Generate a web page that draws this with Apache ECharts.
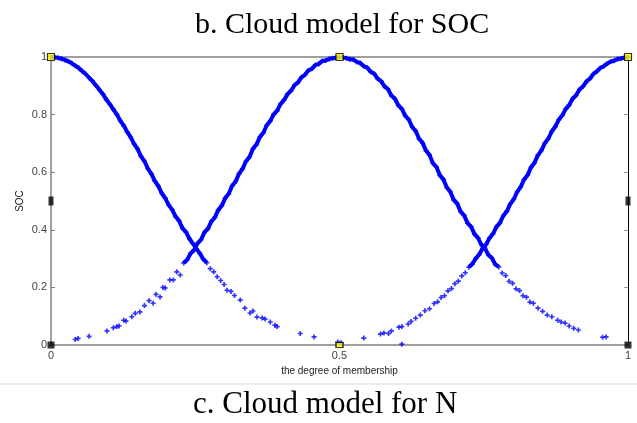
<!DOCTYPE html>
<html>
<head>
<meta charset="utf-8">
<script src="https://cdn.jsdelivr.net/npm/echarts@6/dist/echarts.min.js"></script>
<style>
  html, body { margin: 0; padding: 0; background: #fff; }
  #chart { width: 637px; height: 423px; }
</style>
</head>
<body>
<div id="chart"></div>
<script>
// Cloud drops (x = degree of membership axis, y = SOC axis)
// Cloud centred at 0 (right half)
const cloudLow = [
  [0.000,1.000],[0.006,0.999],[0.012,0.997],[0.018,0.994],[0.024,0.990],[0.030,0.985],
  [0.036,0.978],[0.042,0.970],[0.048,0.962],[0.054,0.951],[0.060,0.941],[0.066,0.928],
  [0.072,0.916],[0.078,0.901],[0.084,0.886],[0.090,0.871],[0.096,0.852],[0.102,0.836],
  [0.108,0.818],[0.114,0.801],[0.120,0.779],[0.126,0.762],[0.132,0.740],[0.138,0.722],
  [0.144,0.698],[0.150,0.681],[0.156,0.655],[0.162,0.638],[0.168,0.612],[0.174,0.594],
  [0.180,0.569],[0.186,0.552],[0.192,0.527],[0.198,0.510],[0.204,0.486],[0.210,0.470],
  [0.216,0.446],[0.222,0.431],[0.228,0.405],[0.234,0.392],[0.240,0.369],[0.246,0.352],
  [0.252,0.334],[0.258,0.318],[0.264,0.298],[0.270,0.286],[0.276,0.265],[0.282,0.254],
  [0.288,0.237],[0.294,0.224],[0.300,0.210],[0.305,0.190],[0.312,0.186],[0.318,0.172],
  [0.328,0.156],[0.336,0.128],[0.345,0.111],[0.350,0.118],[0.357,0.097],[0.366,0.094],
  [0.371,0.090],[0.380,0.080],[0.388,0.069],[0.392,0.064],[0.432,0.040],[0.456,0.028],
  [0.497,0.010],[0.608,0.003]
];
// Cloud centred at 0.5, left half
const cloudMidLeft = [
  [0.042,0.019],[0.047,0.023],[0.066,0.030],[0.097,0.049],[0.108,0.060],[0.114,0.064],
  [0.118,0.066],[0.126,0.086],[0.130,0.083],[0.140,0.098],[0.146,0.110],[0.154,0.115],
  [0.162,0.137],[0.170,0.154],[0.177,0.145],[0.182,0.176],[0.189,0.167],[0.194,0.200],
  [0.198,0.198],[0.206,0.226],[0.212,0.226],[0.218,0.254],[0.224,0.243],[0.230,0.285],
  [0.236,0.296],[0.242,0.318],[0.248,0.330],[0.254,0.353],[0.260,0.366],[0.266,0.391],
  [0.272,0.404],[0.278,0.429],[0.284,0.443],[0.290,0.469],[0.296,0.484],[0.302,0.510],
  [0.308,0.525],[0.314,0.553],[0.320,0.568],[0.326,0.595],[0.332,0.612],[0.338,0.638],
  [0.344,0.653],[0.350,0.681],[0.356,0.696],[0.362,0.722],[0.368,0.737],[0.374,0.763],
  [0.380,0.778],[0.386,0.801],[0.392,0.814],[0.398,0.837],[0.404,0.851],[0.410,0.871],
  [0.416,0.883],[0.422,0.902],[0.428,0.912],[0.434,0.929],[0.440,0.938],[0.446,0.953],
  [0.452,0.959],[0.458,0.972],[0.464,0.976],[0.470,0.986],[0.476,0.988],[0.482,0.993],
  [0.488,0.996],[0.494,0.997],[0.500,1.000]
];
// Cloud centred at 0.5, right half
const cloudMidRight = [
  [0.506,0.998],[0.512,0.996],[0.518,0.992],[0.524,0.991],[0.530,0.983],[0.536,0.979],
  [0.542,0.968],[0.548,0.963],[0.554,0.949],[0.560,0.942],[0.566,0.925],[0.572,0.916],
  [0.578,0.898],[0.584,0.888],[0.590,0.866],[0.596,0.855],[0.602,0.832],[0.608,0.820],
  [0.614,0.796],[0.620,0.783],[0.626,0.757],[0.632,0.743],[0.638,0.716],[0.644,0.702],
  [0.650,0.675],[0.656,0.660],[0.662,0.631],[0.668,0.618],[0.674,0.589],[0.680,0.575],
  [0.686,0.547],[0.692,0.532],[0.698,0.504],[0.704,0.491],[0.710,0.463],[0.716,0.450],
  [0.722,0.423],[0.728,0.411],[0.734,0.385],[0.740,0.372],[0.746,0.348],[0.752,0.336],
  [0.758,0.313],[0.764,0.302],[0.770,0.280],[0.776,0.271],[0.782,0.250],[0.788,0.241],
  [0.794,0.221],[0.800,0.214],[0.806,0.195],[0.812,0.189],[0.818,0.171],[0.824,0.166],
  [0.830,0.149],[0.836,0.145],[0.844,0.128],[0.852,0.117],[0.860,0.104],[0.868,0.098],
  [0.878,0.086],[0.884,0.080],[0.891,0.076],[0.898,0.066],[0.906,0.058],[0.914,0.052],
  [0.956,0.027],[0.962,0.028]
];
// Cloud centred at 1 (left half)
const cloudHigh = [
  [0.503,0.008],[0.542,0.024],[0.571,0.038],[0.577,0.042],[0.585,0.040],[0.590,0.049],
  [0.603,0.062],[0.608,0.064],[0.619,0.073],[0.624,0.082],[0.632,0.093],[0.640,0.104],
  [0.648,0.119],[0.656,0.126],[0.664,0.144],[0.670,0.150],[0.676,0.165],[0.682,0.171],
  [0.688,0.188],[0.694,0.196],[0.700,0.213],[0.706,0.222],[0.712,0.240],[0.718,0.251],
  [0.724,0.270],[0.730,0.281],[0.736,0.300],[0.742,0.314],[0.748,0.335],[0.754,0.349],
  [0.760,0.371],[0.766,0.386],[0.772,0.410],[0.778,0.424],[0.784,0.449],[0.790,0.464],
  [0.796,0.490],[0.802,0.506],[0.808,0.532],[0.814,0.549],[0.820,0.575],[0.826,0.590],
  [0.832,0.617],[0.838,0.633],[0.844,0.659],[0.850,0.676],[0.856,0.701],[0.862,0.717],
  [0.868,0.742],[0.874,0.758],[0.880,0.782],[0.886,0.797],[0.892,0.819],[0.898,0.833],
  [0.904,0.855],[0.910,0.867],[0.916,0.887],[0.922,0.898],[0.928,0.915],[0.934,0.925],
  [0.940,0.941],[0.946,0.950],[0.952,0.962],[0.958,0.968],[0.964,0.977],[0.970,0.984],
  [0.976,0.987],[0.982,0.993],[0.988,0.995],[0.994,0.998],[1.000,1.000]
];
// Peak (Ex) markers and base / mid-height markers
const peakMarks = [[0, 1], [0.5, 1], [1, 1]];
const baseMarks = [[0, 0], [1, 0]];
const centreBaseMark = [[0.5, 0]];
const midMarks = [[0, 0.5], [1, 0.5]];

const yTicks = [0, 0.2, 0.4, 0.6, 0.8, 1];
const xTicks = [0, 0.5, 1];

const BLUE = '#0000ff';
const dropSymbol = 'path://M1 0h1v1h1v1h-1v1h-1v-1h-1v-1h1z';
const clouds = [cloudLow, cloudMidLeft, cloudMidRight, cloudHigh];

const series = [];
clouds.forEach(function (pts) {
  // dense part of each cloud drawn as a thick band through the drops
  const dense = pts.filter(function (p) { return p[1] >= 0.27; });
  series.push({
    type: 'line', data: dense, showSymbol: false, smooth: false,
    lineStyle: { color: BLUE, width: 4 }, silent: true, z: 2
  });
  series.push({
    type: 'scatter', data: pts, symbol: dropSymbol, symbolSize: 5,
    itemStyle: { color: BLUE }, silent: true, z: 3
  });
});
series.push({
  type: 'scatter', data: peakMarks, symbol: 'rect', symbolSize: 7, clip: false, z: 5,
  itemStyle: { color: '#ffff00', borderColor: '#000', borderWidth: 1.2 }
});
series.push({
  type: 'scatter', data: baseMarks, symbol: 'rect', symbolSize: 7, clip: false, z: 5,
  itemStyle: { color: '#000' }
});
series.push({
  type: 'scatter', data: centreBaseMark, symbol: 'rect', symbolSize: [7, 5], clip: false, z: 5,
  itemStyle: { color: '#ffff00', borderColor: '#000', borderWidth: 1.2 }
});
series.push({
  type: 'scatter', data: midMarks, symbol: 'rect', symbolSize: [5, 9], clip: false, z: 5,
  itemStyle: { color: '#000' }
});

const labelFont = { fontFamily: 'Liberation Sans', fontSize: 11, color: '#444' };

const chart = echarts.init(document.getElementById('chart'), null, { renderer: 'canvas' });
chart.setOption({
  animation: false,
  backgroundColor: '#fff',
  title: [
    { text: 'b. Cloud model for SOC', left: 190, top: 5,
      textStyle: { fontFamily: 'Liberation Serif', fontSize: 30, fontWeight: 'normal', color: '#000' } },
    { text: 'c. Cloud model for N', left: 188, top: 384,
      textStyle: { fontFamily: 'Liberation Serif', fontSize: 31, fontWeight: 'normal', color: '#000' } }
  ],
  graphic: [
    { type: 'rect', left: 0, top: 383, shape: { width: 637, height: 2 },
      style: { fill: '#ececec' }, silent: true },
    // y-axis title
    { type: 'text', x: 20, y: 201, rotation: Math.PI / 2, silent: true,
      style: { text: 'SOC', fontFamily: 'Liberation Sans', fontSize: 10, fill: '#222',
               textAlign: 'center', textVerticalAlign: 'middle' } }
  ],
  grid: { left: 51, right: 9, top: 57, bottom: 78, containLabel: false },
  xAxis: [
    {
      type: 'value', min: xTicks[0], max: xTicks[xTicks.length - 1], interval: 0.5,
      name: 'the degree of membership', nameLocation: 'middle', nameGap: 18,
      nameTextStyle: { fontFamily: 'Liberation Sans', fontSize: 10, color: '#222' },
      axisLine: { show: true, onZero: false, lineStyle: { color: '#808080', width: 1.5 } },
      axisTick: { show: true, inside: true, length: 4, lineStyle: { color: '#808080' } },
      axisLabel: Object.assign({ margin: 5, formatter: function (v) { return String(v); } }, labelFont),
      splitLine: { show: false }
    },
    {
      type: 'value', position: 'top', min: 0, max: 1,
      axisLine: { show: true, onZero: false, lineStyle: { color: '#808080', width: 1.5 } },
      axisTick: { show: false }, axisLabel: { show: false }, splitLine: { show: false }
    }
  ],
  yAxis: [
    {
      type: 'value', min: yTicks[0], max: yTicks[yTicks.length - 1], interval: 0.2,
      axisLine: { show: true, onZero: false, lineStyle: { color: '#808080', width: 1.5 } },
      axisTick: { show: true, inside: true, length: 4, lineStyle: { color: '#808080' } },
      axisLabel: Object.assign({ margin: 4, formatter: function (v) { return String(+v.toFixed(1)); } }, labelFont),
      splitLine: { show: false }
    },
    {
      type: 'value', position: 'right', min: 0, max: 1, interval: 0.2,
      axisLine: { show: true, onZero: false, lineStyle: { color: '#000', width: 1 } },
      axisTick: { show: true, inside: true, length: 4, lineStyle: { color: '#999' } },
      axisLabel: { show: false }, splitLine: { show: false }
    }
  ],
  series: series
});
</script>
</body>
</html>
